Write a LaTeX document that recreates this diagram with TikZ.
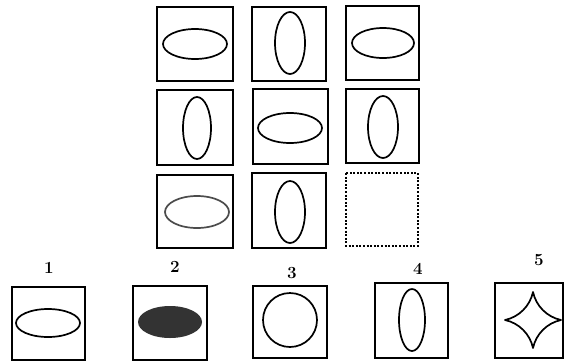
\documentclass[tikz,border=0pt]{standalone}
\begin{document}
\begin{tikzpicture}[x=1pt,y=-1pt,
  frame/.style={draw=black,line width=1.8pt},
  shp/.style={draw=black,line width=1.7pt},
  lbl/.style={font=\fontsize{17}{17}\selectfont\bfseries,inner sep=0pt}]
\useasboundingbox (0,0) rectangle (564,362);
% grid row 1
\draw[frame] (157,7) rectangle (233,81);
\draw[shp] (195,44) ellipse [x radius=32,y radius=15];
\draw[frame] (252,7) rectangle (326,81);
\draw[shp] (290,43) ellipse [x radius=15,y radius=31];
\draw[frame] (346,6) rectangle (419,80);
\draw[shp] (383,43) ellipse [x radius=31,y radius=15];
% grid row 2
\draw[frame] (157,90) rectangle (233,165);
\draw[shp] (197,128) ellipse [x radius=14,y radius=31];
\draw[frame] (253,89) rectangle (328,164);
\draw[shp] (290,128) ellipse [x radius=32,y radius=15];
\draw[frame] (346,89) rectangle (419,163);
\draw[shp] (383,127) ellipse [x radius=15,y radius=31];
% grid row 3
\draw[frame] (157,175) rectangle (233,248);
\draw[shp,draw=black!70] (197,212) ellipse [x radius=32,y radius=16];
\draw[frame] (252,173) rectangle (326,248);
\draw[shp] (290,212) ellipse [x radius=15,y radius=31];
\draw[line width=1.2pt,dash pattern=on 2pt off 1.6pt] (346,173) rectangle (418,246);
% answers
\node[lbl] (l1) at (49,268) {1};
\draw[frame] (12,287) rectangle (85,360);
\draw[shp] (48,323) ellipse [x radius=32,y radius=14];
\node[lbl] (l2) at (175,267) {2};
\draw[frame] (133,286) rectangle (207,360);
\fill[black!80] (170,322) ellipse [x radius=32,y radius=16];
\node[lbl] (l3) at (292,273) {3};
\draw[frame] (253,286) rectangle (327,358);
\draw[shp] (290,320) circle [radius=27];
\node[lbl] (l4) at (418,269) {4};
\draw[frame] (375,283) rectangle (448,358);
\draw[shp] (412,320) ellipse [x radius=13,y radius=31];
\node[lbl] (l5) at (539,260) {5};
\draw[frame] (495,283) rectangle (563,358);
\draw[shp,line join=round] (561,320) .. controls (547,317) and (536,306) .. (533,292)
  .. controls (530,306) and (519,317) .. (505,320)
  .. controls (519,323) and (530,334) .. (533,348)
  .. controls (536,334) and (547,323) .. (561,320) -- cycle;
\end{tikzpicture}
\end{document}
